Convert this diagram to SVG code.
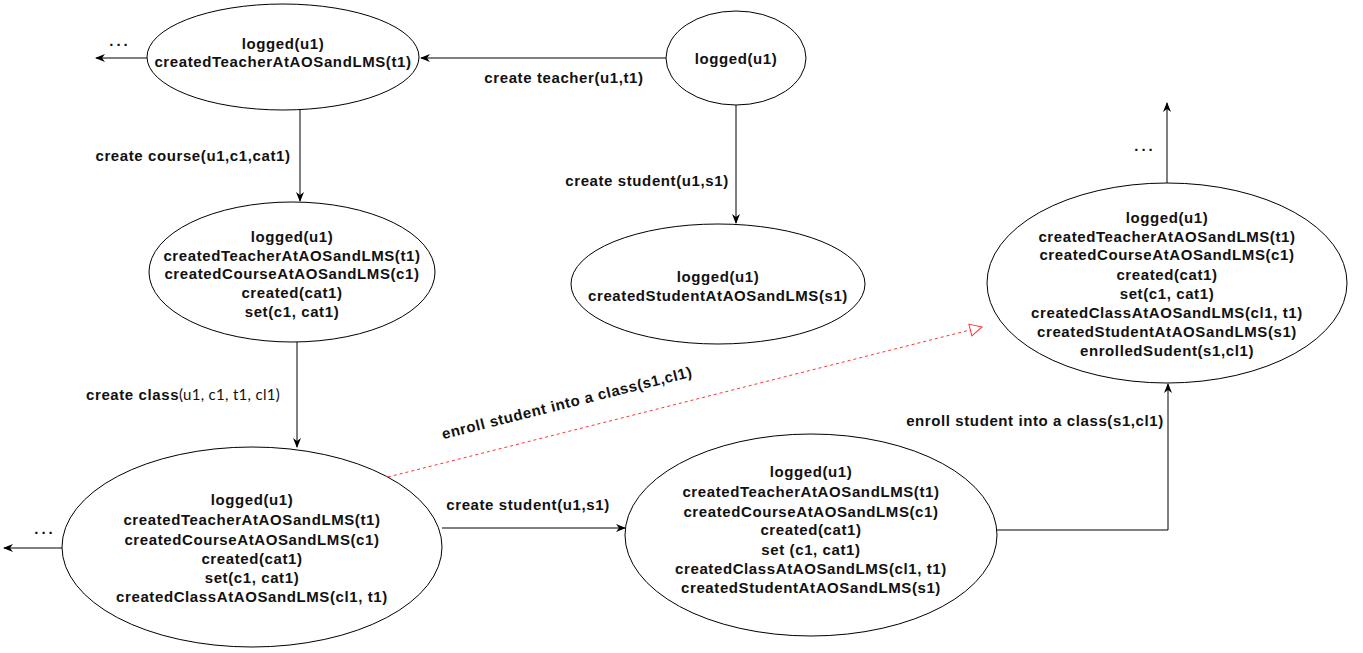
<svg xmlns="http://www.w3.org/2000/svg" width="1363" height="653" viewBox="0 0 1363 653">
  <style>
    .node { fill: #ffffff; stroke: #000000; stroke-width: 1; }
    .t { font-family: "Liberation Sans", Arial, sans-serif; font-size: 15px; font-weight: bold; letter-spacing: 0.6px; fill: #111111; text-anchor: middle; }
    .lbl { font-family: "Liberation Sans", Arial, sans-serif; font-size: 15px; font-weight: bold; letter-spacing: 0.6px; fill: #111111; }
    .args { font-family: Lato, "Open Sans", sans-serif; font-weight: normal; letter-spacing: 0.3px; }
    .dots { font-family: "Liberation Sans", Arial, sans-serif; font-size: 15px; font-weight: bold; letter-spacing: 3px; fill: #111111; text-anchor: middle; }
    .edge { fill: none; stroke: #000000; stroke-width: 1; }
    .dash { fill: none; stroke: #ff3333; stroke-width: 1; stroke-dasharray: 3 3; }
  </style>
  <defs>
    <marker id="arrow" viewBox="0 0 10 10" refX="9" refY="5" markerWidth="10" markerHeight="10" markerUnits="userSpaceOnUse" orient="auto">
      <path d="M0,1 L10,5 L0,9 L3,5 Z" fill="#000000"/>
    </marker>
    <marker id="hollow" viewBox="0 0 14 14" refX="13" refY="7" markerWidth="14" markerHeight="14" markerUnits="userSpaceOnUse" orient="auto">
      <path d="M1,1 L13,7 L1,13 Z" fill="#ffffff" stroke="#ff3333" stroke-width="1"/>
    </marker>
  </defs>
  <rect width="1363" height="653" fill="#ffffff"/>

  <!-- connectors -->
  <g id="connectors">
    <line class="edge" x1="666" y1="58" x2="421" y2="58" marker-end="url(#arrow)"/>
    <line class="edge" x1="147" y1="58" x2="96" y2="58" marker-end="url(#arrow)"/>
    <line class="edge" x1="736" y1="105" x2="736" y2="223" marker-end="url(#arrow)"/>
    <line class="edge" x1="300" y1="110" x2="300" y2="201" marker-end="url(#arrow)"/>
    <line class="edge" x1="297" y1="342" x2="297" y2="447" marker-end="url(#arrow)"/>
    <line class="edge" x1="62" y1="548" x2="4" y2="548" marker-end="url(#arrow)"/>
    <line class="edge" x1="442" y1="528" x2="625" y2="528" marker-end="url(#arrow)"/>
    <polyline class="edge" points="997,530 1168,530 1168,384" marker-end="url(#arrow)"/>
    <line class="edge" x1="1167" y1="183" x2="1167" y2="103" marker-end="url(#arrow)"/>
    <line class="dash" x1="388" y1="477" x2="982" y2="327" marker-end="url(#hollow)"/>

    <text class="lbl" x="564" y="83" text-anchor="middle">create teacher(u1,t1)</text>
    <text class="lbl" x="647" y="186" text-anchor="middle">create student(u1,s1)</text>
    <text class="lbl" x="193" y="161" text-anchor="middle">create course(u1,c1,cat1)</text>
    <text class="lbl" x="86" y="400">create class<tspan class="args">(u1, c1, t1, cl1)</tspan></text>
    <text class="lbl" x="528" y="510" text-anchor="middle">create student(u1,s1)</text>
    <text class="lbl" x="1035" y="426" text-anchor="middle">enroll student into a class(s1,cl1)</text>
    <text class="lbl" x="567" y="408" text-anchor="middle" transform="rotate(-14.1 567 403)">enroll student into a class(s1,cl1)</text>
    <text class="dots" x="120" y="46">...</text>
    <text class="dots" x="45" y="534">...</text>
    <text class="dots" x="1145" y="151">...</text>
  </g>

  <!-- states -->
  <g id="state-teacher">
    <ellipse class="node" cx="283" cy="57" rx="136" ry="53"/>
    <text class="t" x="283" y="49">logged(u1)</text>
    <text class="t" x="283" y="67">createdTeacherAtAOSandLMS(t1)</text>
  </g>

  <g id="state-logged">
    <ellipse class="node" cx="736" cy="58" rx="70" ry="47"/>
    <text class="t" x="736" y="64">logged(u1)</text>
  </g>

  <g id="state-student">
    <ellipse class="node" cx="718" cy="284" rx="147" ry="60"/>
    <text class="t" x="718" y="282">logged(u1)</text>
    <text class="t" x="718" y="301">createdStudentAtAOSandLMS(s1)</text>
  </g>

  <g id="state-course">
    <ellipse class="node" cx="292" cy="272" rx="143" ry="70"/>
    <text class="t" x="292" y="242">logged(u1)</text>
    <text class="t" x="292" y="261">createdTeacherAtAOSandLMS(t1)</text>
    <text class="t" x="292" y="279">createdCourseAtAOSandLMS(c1)</text>
    <text class="t" x="292" y="298">created(cat1)</text>
    <text class="t" x="292" y="317">set(c1, cat1)</text>
  </g>

  <g id="state-class">
    <ellipse class="node" cx="252" cy="547" rx="190" ry="100"/>
    <text class="t" x="252" y="505">logged(u1)</text>
    <text class="t" x="252" y="525">createdTeacherAtAOSandLMS(t1)</text>
    <text class="t" x="252" y="545">createdCourseAtAOSandLMS(c1)</text>
    <text class="t" x="252" y="564">created(cat1)</text>
    <text class="t" x="252" y="583">set(c1, cat1)</text>
    <text class="t" x="252" y="602">createdClassAtAOSandLMS(cl1, t1)</text>
  </g>

  <g id="state-class-student">
    <ellipse class="node" cx="811" cy="535" rx="186" ry="101"/>
    <text class="t" x="811" y="477">logged(u1)</text>
    <text class="t" x="811" y="497">createdTeacherAtAOSandLMS(t1)</text>
    <text class="t" x="811" y="517">createdCourseAtAOSandLMS(c1)</text>
    <text class="t" x="811" y="535">created(cat1)</text>
    <text class="t" x="811" y="555">set (c1, cat1)</text>
    <text class="t" x="811" y="574">createdClassAtAOSandLMS(cl1, t1)</text>
    <text class="t" x="811" y="593">createdStudentAtAOSandLMS(s1)</text>
  </g>

  <g id="state-enrolled">
    <ellipse class="node" cx="1167" cy="283" rx="180" ry="100"/>
    <text class="t" x="1167" y="223">logged(u1)</text>
    <text class="t" x="1167" y="242">createdTeacherAtAOSandLMS(t1)</text>
    <text class="t" x="1167" y="260">createdCourseAtAOSandLMS(c1)</text>
    <text class="t" x="1167" y="280">created(cat1)</text>
    <text class="t" x="1167" y="299">set(c1, cat1)</text>
    <text class="t" x="1167" y="318">createdClassAtAOSandLMS(cl1, t1)</text>
    <text class="t" x="1167" y="337">createdStudentAtAOSandLMS(s1)</text>
    <text class="t" x="1167" y="356">enrolledSudent(s1,cl1)</text>
  </g>
</svg>
